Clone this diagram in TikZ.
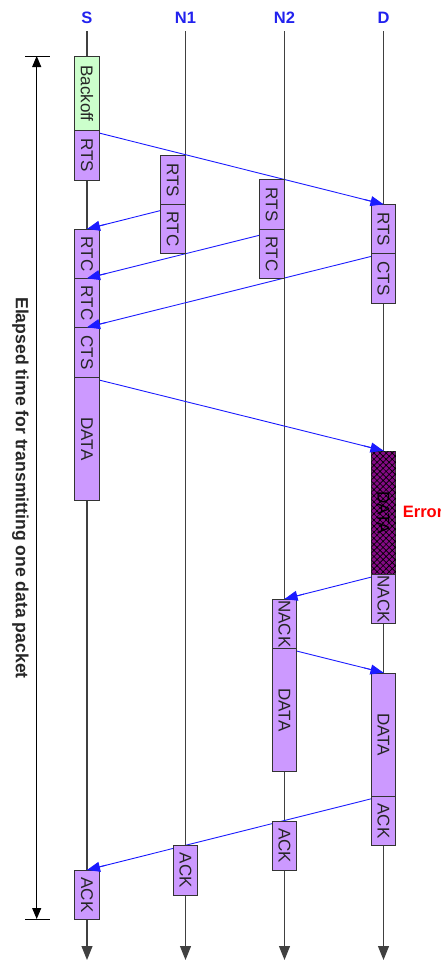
\documentclass[tikz,border=0pt]{standalone}
\usepackage{fontspec}
\setmainfont{Liberation Sans}
\usepackage{graphicx}
\usetikzlibrary{arrows.meta,calc,patterns.meta}
\definecolor{boxpurple}{HTML}{CC99FF}
\definecolor{boxgreen}{HTML}{CCFFCC}
\definecolor{errpurple}{HTML}{850A85}
\definecolor{msgblue}{HTML}{1A1AFF}
\definecolor{lblblue}{HTML}{2222EE}
\pgfdeclarelayer{bg}
\pgfdeclarelayer{mid}
\pgfsetlayers{bg,mid,main}
\tikzset{
  pbox/.style={draw=black!80, line width=0.9pt, fill=boxpurple, minimum width=24.5pt,
    inner sep=0pt, anchor=north, text=black!85,
    font=\fontsize{17pt}{19pt}\selectfont},
  gbox/.style={pbox, fill=boxgreen},
  errbox/.style={pbox, fill=errpurple, text=black,
    postaction={pattern={Hatch[angle=45,distance=4.3pt,line width=0.65pt]}, pattern color=black}},
  lifeline/.style={draw=black!75, line width=1.1pt, -{Triangle[length=14pt,width=11pt]}},
  msgline/.style={draw=msgblue, line width=0.9pt},
  msghead/.style={draw=msgblue, line width=0.9pt,
    -{Triangle[length=13pt,width=10pt,color=msgblue]}},
  title/.style={text=lblblue, font=\fontsize{16.5pt}{19pt}\selectfont\bfseries},
  timearrow/.style={draw=black, line width=1pt,
    {Triangle[length=11pt,width=9pt]}-{Triangle[length=11pt,width=9pt]}},
  timebar/.style={draw=black, line width=1pt},
}
\newcommand{\msgarrow}[2]{%
  \begin{pgfonlayer}{mid}\draw[msgline] (#1) -- (#2);\end{pgfonlayer}%
  \draw[msghead] ($(#2)!20pt!(#1)$) -- (#2);}
\begin{document}
\begin{tikzpicture}[x=1pt,y=-1pt]
\useasboundingbox (0,0) rectangle (440,967);

% titles
\node[title] (lS)  at (87,18)    {S};
\node[title] (lN1) at (185.5,18) {N1};
\node[title] (lN2) at (284.5,18) {N2};
\node[title] (lD)  at (383.5,18) {D};

% lifelines
\coordinate (sTop) at (87,31);    \coordinate (sBot) at (87,960);
\coordinate (n1Top) at (185.5,31); \coordinate (n1Bot) at (185.5,960);
\coordinate (n2Top) at (284.5,31); \coordinate (n2Bot) at (284.5,960);
\coordinate (dTop) at (383.5,31); \coordinate (dBot) at (383.5,960);
\begin{pgfonlayer}{bg}
\draw[lifeline] (sTop) -- (sBot);
\draw[lifeline] (n1Top) -- (n1Bot);
\draw[lifeline] (n2Top) -- (n2Bot);
\draw[lifeline] (dTop) -- (dBot);
\end{pgfonlayer}

% elapsed time arrow
\coordinate (tTop) at (36.7,56);  \coordinate (tBot) at (36.7,919);
\coordinate (tTL) at (25,56); \coordinate (tTR) at (50,56);
\coordinate (tBL) at (25,919); \coordinate (tBR) at (50,919);
\draw[timearrow] (tTop) -- (tBot);
\draw[timebar] (tTL) -- (tTR);
\draw[timebar] (tBL) -- (tBR);
\node[font=\fontsize{17.6pt}{20pt}\selectfont\bfseries, text=black!85] (elapsed) at (20.5,488)
  {\rotatebox{-90}{Elapsed time for transmitting one data packet}};

% S column
\node[gbox, minimum height=74pt]   (sBack) at (87,56)    {\rotatebox{-90}{Backoff}};
\node[pbox, minimum height=49.5pt] (sRTS)  at (87,130)   {\rotatebox{-90}{RTS}};
\node[pbox, minimum height=49.3pt] (sRTC1) at (87,229)   {\rotatebox{-90}{RTC}};
\node[pbox, minimum height=49pt]   (sRTC2) at (87,278.3) {\rotatebox{-90}{RTC}};
\node[pbox, minimum height=49.7pt] (sCTS)  at (87,327.3) {\rotatebox{-90}{CTS}};
\node[pbox, minimum height=123pt]  (sDATA) at (87,377)   {\rotatebox{-90}{DATA}};
\node[pbox, minimum height=49.3pt] (sACK)  at (87,870)   {\rotatebox{-90}{ACK}};

% N1 column
\node[pbox, anchor=north east, minimum height=49.6pt] (n1RTS) at (185.5,154.7) {\rotatebox{-90}{RTS}};
\node[pbox, anchor=north east, minimum height=49pt]   (n1RTC) at (185.5,204.3) {\rotatebox{-90}{RTC}};
\node[pbox, minimum height=49.4pt] (n1ACK) at (185.5,845.3) {\rotatebox{-90}{ACK}};

% N2 column
\node[pbox, anchor=north east, minimum height=49.7pt] (n2RTS) at (284.5,179.3) {\rotatebox{-90}{RTS}};
\node[pbox, anchor=north east, minimum height=49.3pt] (n2RTC) at (284.5,229)   {\rotatebox{-90}{RTC}};
\node[pbox, minimum height=49pt]  (n2NACK) at (284.5,599) {\rotatebox{-90}{NACK}};
\node[pbox, minimum height=123pt] (n2DATA) at (284.5,648) {\rotatebox{-90}{DATA}};
\node[pbox, minimum height=49.3pt] (n2ACK) at (284.5,820.7) {\rotatebox{-90}{ACK}};

% D column
\node[pbox, minimum height=49pt]   (dRTS)  at (383.5,204.3) {\rotatebox{-90}{RTS}};
\node[pbox, minimum height=49.4pt] (dCTS)  at (383.5,253.3) {\rotatebox{-90}{CTS}};
\node[errbox, minimum height=123.3pt] (dDATA) at (383.5,450.7) {\rotatebox{-90}{DATA}};
\node[pbox, minimum height=49.3pt] (dNACK) at (383.5,574)   {\rotatebox{-90}{NACK}};
\node[pbox, minimum height=123pt]  (dDATA2) at (383.5,672.7) {\rotatebox{-90}{DATA}};
\node[pbox, minimum height=49.6pt] (dACK)  at (383.5,795.7) {\rotatebox{-90}{ACK}};

\node[anchor=west, inner sep=0pt, text=red, font=\fontsize{16.5pt}{19pt}\selectfont\bfseries]
  (err) at (402.7,512) {Error};

% messages
\msgarrow{sRTS.north}{dRTS.north}
\msgarrow{n1RTC.north east}{sRTC1.north}
\msgarrow{n2RTC.north east}{sRTC2.north}
\msgarrow{dCTS.north}{sCTS.north}
\msgarrow{sDATA.north}{dDATA.north}
\msgarrow{dNACK.north}{n2NACK.north}
\msgarrow{n2DATA.north}{dDATA2.north}
\msgarrow{dACK.north}{sACK.north}
\end{tikzpicture}
\end{document}
